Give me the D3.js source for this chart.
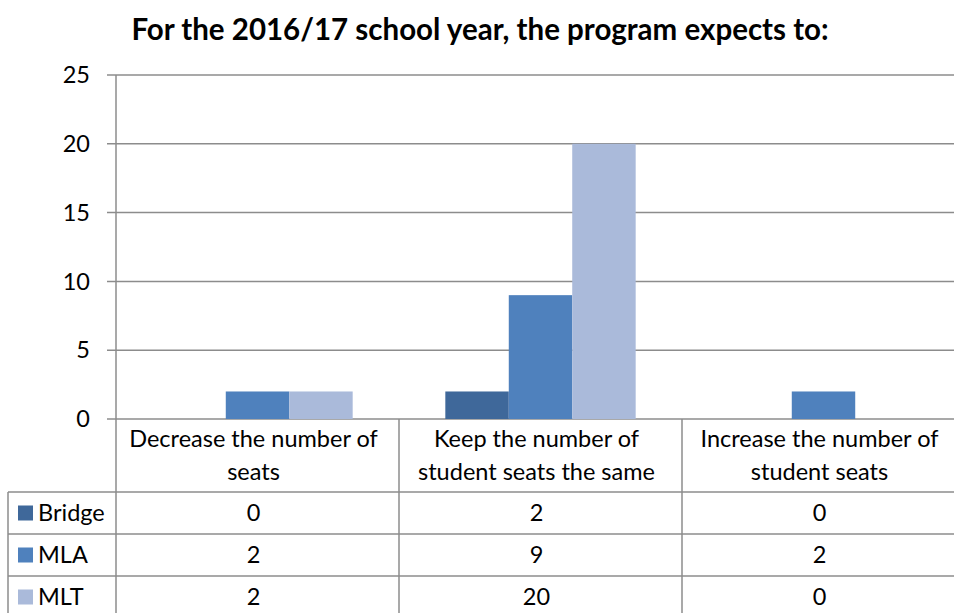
<!doctype html>
<html>
  <head>
    <meta charset="utf-8">
    <title>2016/17 school year</title>
    <script src="https://cdn.jsdelivr.net/npm/d3@7"></script>
    <style>
      html, body { margin:0; padding:0; overflow:hidden; background:#fff }
      svg { display:block }
      text { font-family: Lato, "Liberation Sans", sans-serif; fill:#000 }
    </style>
  </head>
  <body>
    <div id="chart"></div>
    <script>
      var categories = [
        ["Decrease the number of", "seats"],
        ["Keep the number of", "student seats the same"],
        ["Increase the number of", "student seats"]
      ];
      var series = ["Bridge", "MLA", "MLT"];
      var bridge = [0, 2, 0];
      var mla = [2, 9, 2];
      var mlt = [2, 20, 0];
      var yTicks = [0, 5, 10, 15, 20, 25];
      var colors = ["#3f689a", "#4f81bd", "#aabada"];

      var values = [bridge, mla, mlt];
      var W = 954, H = 613;
      var plotLeft = 116, plotRight = 965, plotTop = 75, base = 419;
      var headerH = 73, rowH = 42, tableLeft = 8;
      var grid = "#8c8c8c";
      var fs = "23.5px";

      var svg = d3.select("#chart").append("svg")
        .attr("width", W).attr("height", H);

      svg.append("text")
        .attr("x", 480).attr("y", 30)
        .attr("text-anchor", "middle").attr("dy", "0.35em")
        .style("font-size", "29.5px").style("font-weight", "bold")
        .text("For the 2016/17 school year, the program expects to:");

      var y = d3.scaleLinear().domain([0, 25]).range([base, plotTop]);
      var x0 = d3.scaleBand().domain(d3.range(categories.length)).range([plotLeft, plotRight]);
      var x1 = d3.scaleBand().domain(d3.range(series.length))
        .range([0, x0.bandwidth()]).paddingOuter(0.73);

      // gridlines + ticks
      svg.append("g").selectAll("line").data(yTicks).join("line")
        .attr("x1", plotLeft - 9).attr("x2", W)
        .attr("y1", function(d) { return y(d); }).attr("y2", function(d) { return y(d); })
        .attr("stroke", grid).attr("stroke-width", 1.5);

      svg.append("g").selectAll("text").data(yTicks).join("text")
        .attr("x", 90).attr("y", function(d) { return y(d); })
        .attr("dy", "0.35em").attr("text-anchor", "end")
        .style("font-size", fs)
        .text(function(d) { return d; });

      // bars
      svg.append("g").selectAll("g").data(values).join("g")
        .attr("fill", function(d, i) { return colors[i]; })
        .each(function(vals, s) {
          d3.select(this).selectAll("rect").data(vals).join("rect")
            .attr("x", function(d, c) { return x0(c) + x1(s); })
            .attr("width", x1.bandwidth())
            .attr("y", function(d) { return y(d); })
            .attr("height", function(d) { return base - y(d); });
        });

      // table lines
      var tableBottom = base + headerH + rowH * series.length;
      var t = svg.append("g").attr("stroke", grid).attr("stroke-width", 1.5);
      t.append("line").attr("x1", plotLeft).attr("x2", plotLeft).attr("y1", plotTop).attr("y2", tableBottom);
      t.append("line").attr("x1", tableLeft).attr("x2", tableLeft)
        .attr("y1", base + headerH).attr("y2", tableBottom);
      d3.range(1, categories.length).forEach(function(c) {
        t.append("line").attr("x1", x0(c)).attr("x2", x0(c)).attr("y1", base).attr("y2", tableBottom);
      });
      d3.range(series.length + 1).forEach(function(r) {
        var yy = base + headerH + r * rowH;
        t.append("line").attr("x1", tableLeft).attr("x2", W).attr("y1", yy).attr("y2", yy);
      });

      // header labels
      categories.forEach(function(lines, c) {
        lines.forEach(function(line, k) {
          svg.append("text")
            .attr("x", x0(c) + x0.bandwidth() / 2 - 4)
            .attr("y", base + 20 + k * 33)
            .attr("dy", "0.35em").attr("text-anchor", "middle")
            .style("font-size", fs)
            .text(line);
        });
      });

      // rows
      series.forEach(function(name, s) {
        var cy = base + headerH + s * rowH + rowH / 2;
        svg.append("rect")
          .attr("x", 18).attr("y", cy - 7.5)
          .attr("width", 15).attr("height", 15)
          .attr("fill", colors[s]);
        svg.append("text")
          .attr("x", 38).attr("y", cy).attr("dy", "0.35em")
          .style("font-size", fs)
          .text(name);
        values[s].forEach(function(v, c) {
          svg.append("text")
            .attr("x", x0(c) + x0.bandwidth() / 2 - 4).attr("y", cy)
            .attr("dy", "0.35em").attr("text-anchor", "middle")
            .style("font-size", fs)
            .text(v);
        });
      });
    </script>
  </body>
</html>
